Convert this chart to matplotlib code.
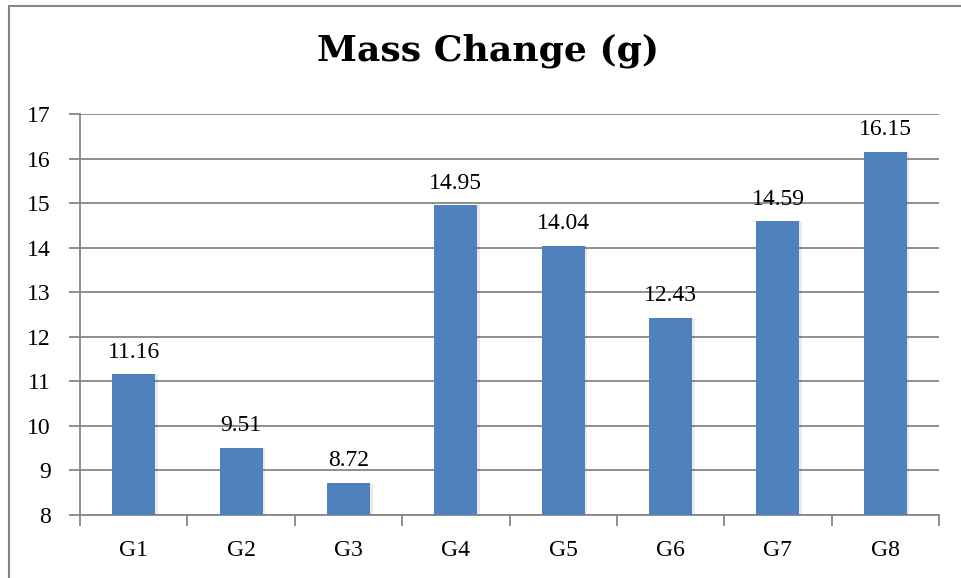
import matplotlib
matplotlib.use("Agg")
import matplotlib.pyplot as plt
from matplotlib.lines import Line2D

categories = ["G1", "G2", "G3", "G4", "G5", "G6", "G7", "G8"]
values = [11.16, 9.51, 8.72, 14.95, 14.04, 12.43, 14.59, 16.15]
yticks = [8, 9, 10, 11, 12, 13, 14, 15, 16, 17]

W, H = 961, 578
fig = plt.figure(figsize=(W / 100, H / 100), dpi=100)
fig.patch.set_facecolor("white")
serif = ["Liberation Serif", "DejaVu Serif"]
grey = "#868686"
fs = 17

ax = fig.add_axes([80 / W, 1 - 515 / H, (939 - 80) / W, (515 - 114) / H])
x = list(range(len(categories)))
# soft shadow
ax.bar([i + 0.015 for i in x], [v - 8 for v in values], bottom=8.0, width=0.42,
       color="#000000", alpha=0.08, zorder=2, linewidth=0)
ax.bar(x, [v - 8 for v in values], bottom=8, width=0.4, color="#4F81BD", zorder=3, linewidth=0)
for i, v in zip(x, values):
    ax.annotate(f"{v:.2f}", (i, v), xytext=(0, 12), textcoords="offset points",
                ha="center", va="baseline", fontsize=fs, family=serif, color="black")

ax.set_xlim(-0.5, len(categories) - 0.5)
ax.set_ylim(8, 17)
ax.set_yticks(yticks)
ax.set_yticklabels([str(t) for t in yticks], family=serif, fontsize=fs)
ax.yaxis.grid(True, color=grey, linewidth=1.3, zorder=0)
ax.set_axisbelow(True)
ax.set_xticks([i - 0.5 for i in range(len(categories) + 1)])
ax.set_xticklabels([])
ax.set_xticks(x, minor=True)
ax.set_xticklabels(categories, minor=True, family=serif, fontsize=fs)
ax.tick_params(axis="x", which="major", length=8, width=1.3, color=grey, direction="out")
ax.tick_params(axis="x", which="minor", length=0, pad=18)
ax.tick_params(axis="y", length=8, width=1.3, color=grey, pad=13)
for s in ["top", "right"]:
    ax.spines[s].set_visible(False)
for s in ["left", "bottom"]:
    ax.spines[s].set_color(grey)
    ax.spines[s].set_linewidth(1.3)

fig.text(488 / W, 1 - 60 / H, "Mass Change (g)", ha="center", va="baseline",
         fontsize=26, fontweight="bold", family=["DejaVu Serif"])

# outer chart border
fig.add_artist(Line2D([8.5 / W, 1], [1 - 5.5 / H, 1 - 5.5 / H], color=grey, linewidth=1.5, transform=fig.transFigure))
fig.add_artist(Line2D([8.5 / W, 8.5 / W], [0, 1 - 5.5 / H], color=grey, linewidth=1.5, transform=fig.transFigure))

fig.savefig("out.png", dpi=100)
